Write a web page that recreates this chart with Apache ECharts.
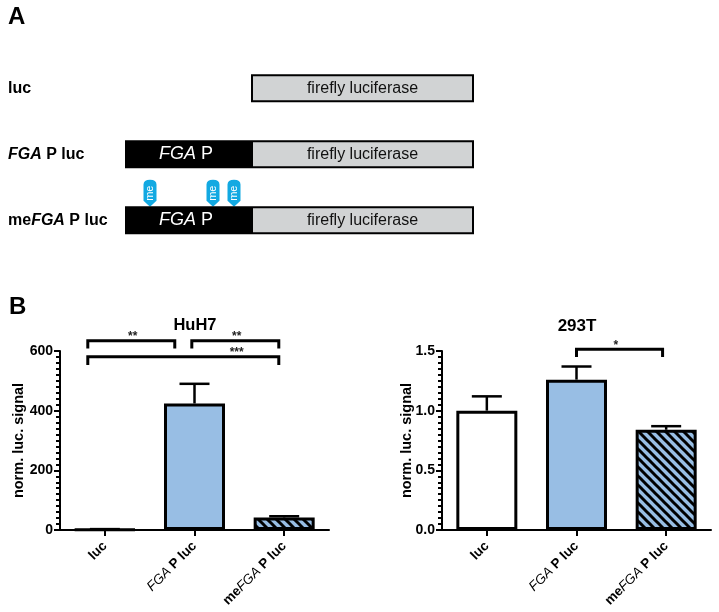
<!DOCTYPE html>
<html><head><meta charset="utf-8">
<style>html,body{margin:0;padding:0;background:#fff}#c{width:719px;height:612px}</style>
<script src="https://cdn.jsdelivr.net/npm/echarts@6/dist/echarts.min.js"></script>
</head><body><div id="c"></div>
<script>
const categories = ['luc', 'FGA P luc', 'meFGA P luc'];
const huh7Values = [2, 424, 42];
const huh7Upper = [3, 490, 46];
const t293Values = [1.0, 1.26, 0.84];
const t293Upper = [1.12, 1.37, 0.87];
const yTicksLabel = 'norm. luc. signal';
// brackets: from, to, line level, tick end, stars, star x, star level
const huh7Brackets = [
  [-0.19, 0.78, 634, 608, '**', 0.31, 634],
  [0.97, 1.94, 634, 608, '**', 1.47, 634],
  [-0.19, 1.94, 581, 553, '***', 1.47, 581]
];
const t293Brackets = [
  [1.0, 1.96, 1.514, 1.45, '*', 1.44, 1.514]
];
// schematic
const rows = ['luc', 'FGA P luc', 'meFGA P luc'];
const spacer = [126, 0, 0];
const promoter = [0, 126, 126];
const luciferase = [223, 223, 223];
const pins = [[25, 2], [88, 2], [109, 2]];

const FONT = '"Liberation Sans", Arial, sans-serif';
const BLUE = '#98BEE4';

function hatch() {
  const s = 9, c = document.createElement('canvas');
  c.width = s; c.height = s;
  const g = c.getContext('2d');
  g.fillStyle = BLUE; g.fillRect(0, 0, s, s);
  g.strokeStyle = '#000'; g.lineWidth = 3;
  [[-2,-2,s+2,s+2],[-s-2,-2,2,s+2],[s-2,-2,2*s+2,s+2]].forEach(l => {
    g.beginPath(); g.moveTo(l[0], l[1]); g.lineTo(l[2], l[3]); g.stroke();
  });
  return c;
}
const fills = ['#fff', BLUE, { image: hatch(), repeat: 'repeat' }];

const tickRich = {
  b: { fontFamily: FONT, fontWeight: 'bold', fontSize: 13.5, color: '#000' },
  i: { fontFamily: FONT, fontStyle: 'italic', fontWeight: 'normal', fontSize: 13.5, color: '#000' }
};
const rowRich = {
  b: { fontFamily: FONT, fontWeight: 'bold', fontSize: 16, color: '#000' },
  i: { fontFamily: FONT, fontWeight: 'bold', fontStyle: 'italic', fontSize: 16, color: '#000' }
};
function richName(v) {
  return v.split(/(FGA)/).filter(Boolean).map(p => p === 'FGA' ? '{i|FGA}' : '{b|' + p + '}').join('');
}

function catAxis(gridIndex) {
  return {
    type: 'category', gridIndex, data: categories,
    axisLine: { show: true, lineStyle: { color: '#000', width: 2 } },
    axisTick: { show: true, alignWithLabel: true, length: 6, lineStyle: { color: '#000', width: 2 } },
    axisLabel: { rotate: 45, margin: 14, interval: 0, formatter: richName, rich: tickRich },
    splitLine: { show: false }
  };
}
function valAxis(gridIndex, max, interval, nameGap, dec) {
  return {
    type: 'value', gridIndex, min: 0, max, interval,
    name: yTicksLabel, nameLocation: 'middle', nameGap, nameMoveOverlap: false,
    nameTextStyle: { fontFamily: FONT, fontWeight: 'bold', fontSize: 14.5, color: '#000' },
    axisLine: { show: true, onZero: false, lineStyle: { color: '#000', width: 2 } },
    axisTick: { show: true, length: 6, lineStyle: { color: '#000', width: 2 } },
    minorTick: { show: true, splitNumber: 10, length: 4, lineStyle: { color: '#000', width: 2 } },
    axisLabel: { margin: 7, fontFamily: FONT, fontWeight: 'bold', fontSize: 14, color: '#000',
      formatter: v => v.toFixed(dec) },
    splitLine: { show: false }, minorSplitLine: { show: false }
  };
}
function hiddenX(gridIndex) {
  return { type: 'value', gridIndex, min: -0.5, max: 2.5, show: false };
}
function bars(values, xi, yi) {
  return {
    type: 'bar', xAxisIndex: xi, yAxisIndex: yi, barWidth: 61, z: 3,
    data: values.map((v, i) => ({ value: v, itemStyle: { color: fills[i], borderColor: '#000', borderWidth: 3 } }))
  };
}
function errors(values, upper, xi, yi) {
  return {
    type: 'custom', xAxisIndex: xi, yAxisIndex: yi, z: 2, clip: false,
    data: values.map((v, i) => [i, v, upper[i]]),
    encode: { x: 0, y: [1, 2] },
    renderItem(p, api) {
      const a = api.coord([api.value(0), api.value(1)]);
      const b = api.coord([api.value(0), api.value(2)]);
      const st = { stroke: '#000', lineWidth: 2.5, fill: null };
      return { type: 'group', children: [
        { type: 'line', shape: { x1: a[0], y1: a[1], x2: b[0], y2: b[1] }, style: st },
        { type: 'line', shape: { x1: b[0] - 15, y1: b[1], x2: b[0] + 15, y2: b[1] }, style: st }
      ] };
    }
  };
}
function brackets(rowsData, xi, yi) {
  return {
    type: 'custom', xAxisIndex: xi, yAxisIndex: yi, z: 5, clip: false,
    data: rowsData.map(r => [r[0], r[1], r[2], r[3], r[5], r[6]]),
    encode: { x: [0, 1], y: [2, 3] },
    renderItem(p, api) {
      const l = api.coord([api.value(0), api.value(2)]);
      const r = api.coord([api.value(1), api.value(2)]);
      const e = api.coord([api.value(0), api.value(3)]);
      const s = api.coord([api.value(4), api.value(5)]);
      return { type: 'group', children: [
        { type: 'polyline', shape: { points: [[l[0], e[1]], [l[0], l[1]], [r[0], r[1]], [r[0], e[1]]] },
          style: { stroke: '#000', lineWidth: 3, fill: null } },
        { type: 'text', style: { x: s[0], y: s[1] - 4, text: rowsData[p.dataIndex][4], align: 'center', verticalAlign: 'middle',
          fontFamily: FONT, fontWeight: 'bold', fontSize: 12, fill: '#222' } }
      ] };
    }
  };
}
const textTitle = (text, left, top, size) => ({
  text, left, top, textAlign: left > 30 ? 'center' : 'left', padding: 0,
  textStyle: { fontFamily: FONT, fontWeight: 'bold', fontSize: size, color: '#000' }
});

const chart = echarts.init(document.getElementById('c'), null, { renderer: 'canvas' });
chart.setOption({
  backgroundColor: '#fff', animation: false,
  title: [
    textTitle('A', 8, 5, 24), textTitle('B', 9, 295, 24),
    textTitle('HuH7', 195, 317, 16.5), textTitle('293T', 577, 318, 17)
  ],
  grid: [
    { left: 60, top: 351, width: 269, height: 179 },
    { left: 442, top: 351, width: 269, height: 179 },
    { left: 125, top: 55.2, width: 349, height: 198 }
  ],
  xAxis: [
    catAxis(0), catAxis(1), hiddenX(0), hiddenX(1),
    { type: 'value', gridIndex: 2, min: 0, max: 349, show: false }
  ],
  yAxis: [
    valAxis(0, 600, 200, 34, 0),
    valAxis(1, 1.5, 0.5, 28, 1),
    { type: 'category', gridIndex: 2, inverse: true, data: rows,
      axisLine: { show: false }, axisTick: { show: false },
      axisLabel: { align: 'left', margin: 117, formatter: richName, rich: rowRich } }
  ],
  series: [
    errors(huh7Values, huh7Upper, 0, 0),
    bars(huh7Values, 0, 0),
    brackets(huh7Brackets, 2, 0),
    errors(t293Values, t293Upper, 1, 1),
    bars(t293Values, 1, 1),
    brackets(t293Brackets, 3, 1),
    { type: 'bar', xAxisIndex: 4, yAxisIndex: 2, stack: 'c', barWidth: 28, data: spacer,
      itemStyle: { color: 'transparent' } },
    { type: 'bar', xAxisIndex: 4, yAxisIndex: 2, stack: 'c', barWidth: 28, data: promoter, z: 3,
      itemStyle: { color: '#000' },
      label: { show: true, position: 'inside', color: '#fff', offset: [-2, 0],
        formatter: p => p.value ? '{i|FGA}{n| P}' : '',
        rich: { i: { fontFamily: FONT, fontStyle: 'italic', fontSize: 18, color: '#fff' },
                n: { fontFamily: FONT, fontSize: 18, color: '#fff' } } } },
    { type: 'bar', xAxisIndex: 4, yAxisIndex: 2, stack: 'c', barWidth: 28, data: luciferase, z: 2,
      itemStyle: { color: '#D1D3D4', borderColor: '#000', borderWidth: 2 },
      label: { show: true, position: 'inside', formatter: 'firefly luciferase',
        fontFamily: FONT, fontSize: 16, color: '#111' } },
    { type: 'scatter', xAxisIndex: 4, yAxisIndex: 2, data: pins, z: 1,
      symbol: 'path://M0 5 Q0 0 6.5 0 Q13 0 13 5 L13 21 L6.5 27 L0 21 Z',
      symbolSize: [13, 27], symbolKeepAspect: false, symbolOffset: [0, -27],
      itemStyle: { color: '#12A9E2', opacity: 1 },
      label: { show: true, position: 'inside', rotate: 90, formatter: 'me',
        fontFamily: FONT, fontSize: 11, color: '#fff' } }
  ]
});
</script></body></html>
